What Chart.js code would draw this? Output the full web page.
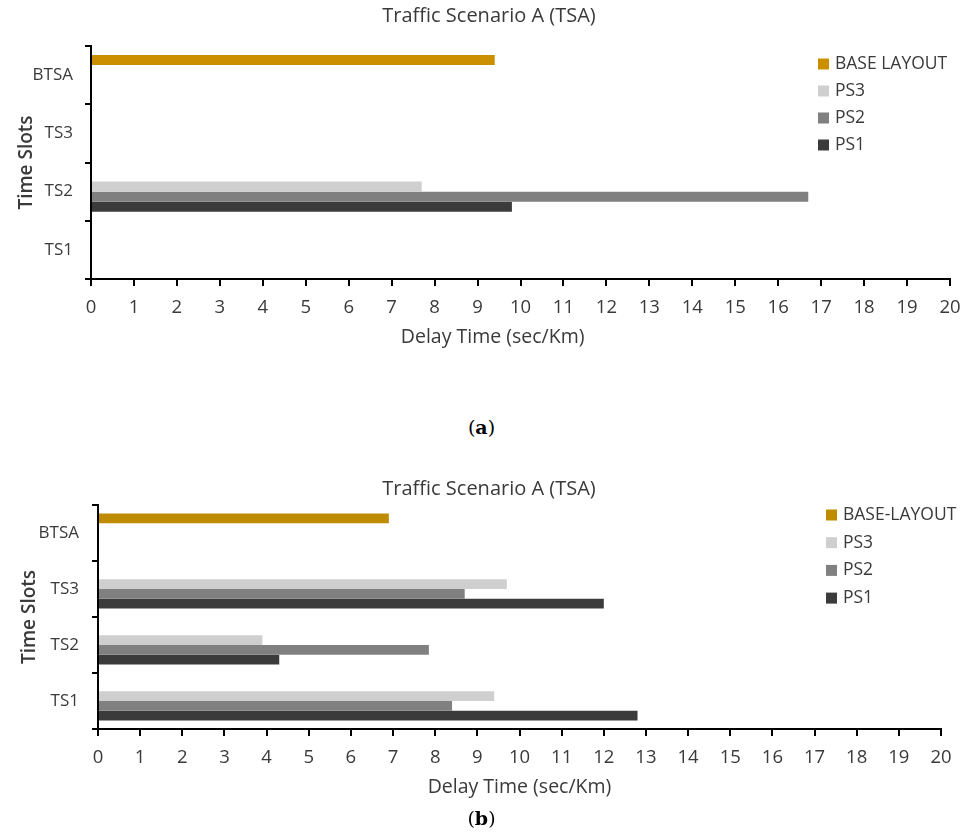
<!DOCTYPE html>
<html>
<head>
<meta charset="utf-8">
<script src="https://cdn.jsdelivr.net/npm/chart.js@4.4.1/dist/chart.umd.min.js"></script>
<style>
  html, body { margin: 0; padding: 0; background: #fff; }
  body { width: 967px; height: 836px; position: relative; overflow: hidden; }
  .box { position: absolute; left: 0; width: 967px; }
  #boxA { top: 0; height: 360px; }
  #boxB { top: 460px; height: 350px; }
  .chart-title {
    position: absolute; left: 0; width: 978px; text-align: center;
    font-family: "Open Sans", sans-serif; font-size: 20px; line-height: 24px;
    color: #3a3a3a; z-index: 2;
  }
  .caption {
    position: absolute; left: -2px; width: 967px; text-align: center;
    font-family: "DejaVu Serif", serif; font-size: 19px; color: #000;
  }
</style>
</head>
<body>
<div class="box" id="boxA"><canvas id="chartA"></canvas></div>
<div class="chart-title" style="top:3px">Traffic Scenario A (TSA)</div>
<div class="caption" style="top:416px">(<b>a</b>)</div>
<div class="box" id="boxB"><canvas id="chartB"></canvas></div>
<div class="chart-title" style="top:476px">Traffic Scenario A (TSA)</div>
<div class="caption" style="top:807px">(<b>b</b>)</div>

<script>
// categories, top to bottom
const categories = ["BTSA", "TS3", "TS2", "TS1"];

// chart (a)
const labelsA = ["BASE LAYOUT", "PS3", "PS2", "PS1"];
const baseA = [9.4, null, null, null];
const ps3A = [null, null, 7.7, null];
const ps2A = [null, null, 16.7, null];
const ps1A = [null, null, 9.8, null];

// chart (b)
const labelsB = ["BASE-LAYOUT", "PS3", "PS2", "PS1"];
const baseB = [6.9, null, null, null];
const ps3B = [null, 9.7, 3.9, 9.4];
const ps2B = [null, 8.7, 7.85, 8.4];
const ps1B = [null, 12.0, 4.3, 12.8];

// x axis
const xMin = 0;
const xMax = 20;
const xStep = 1;
const xTitle = "Delay Time (sec/Km)";

const textColor = "#3a3a3a";
const fontFamily = "'Open Sans', sans-serif";

// legend drawn inside the plot, on the right
const sideLegend = {
  id: "sideLegend",
  afterDraw(chart, args, opts) {
    const ctx = chart.ctx;
    ctx.save();
    ctx.font = "17.5px " + fontFamily;
    ctx.textBaseline = "middle";
    ctx.textAlign = "left";
    chart.data.datasets.forEach(function (ds, i) {
      const y = opts.y + i * opts.gap;
      ctx.fillStyle = ds.backgroundColor;
      ctx.fillRect(opts.x, y - 5.5, 11, 11);
      ctx.fillStyle = textColor;
      ctx.fillText(ds.label, opts.x + 17, y);
    });
    ctx.restore();
  },
};

function buildChart(canvasId, names, series, colors, cfg) {
  const datasets = series.map(function (values, i) {
    return {
      label: names[i],
      data: values,
      backgroundColor: colors[i],
      borderWidth: 0,
      categoryPercentage: cfg.catPct,
      barPercentage: 1.0,
    };
  });

  return new Chart(document.getElementById(canvasId), {
    type: "bar",
    data: { labels: categories, datasets: datasets },
    plugins: [sideLegend],
    options: {
      indexAxis: "y",
      responsive: true,
      maintainAspectRatio: false,
      animation: false,
      layout: {
        padding: { left: 0, right: cfg.padRight, top: cfg.padTop, bottom: 9 },
      },
      plugins: {
        legend: { display: false },
        tooltip: { enabled: false },
        title: { display: false },
        sideLegend: cfg.legend,
      },
      scales: {
        x: {
          type: "linear",
          min: xMin,
          max: xMax,
          ticks: {
            stepSize: xStep,
            color: textColor,
            padding: 11,
            font: { family: fontFamily, size: 18.5 },
          },
          grid: {
            display: true,
            drawOnChartArea: false,
            drawTicks: true,
            tickLength: 7,
            color: "#000",
            lineWidth: 2,
          },
          border: { display: true, color: "#000", width: 2 },
          title: {
            display: true,
            // trailing spaces push the centred title left, as in the source
            text: xTitle + "\u00a0".repeat(cfg.xTitleShift),
            color: textColor,
            font: { family: fontFamily, size: 19.5 },
            padding: { top: 0, bottom: 2 },
          },
          afterFit: function (scale) {
            scale.height = 72;
            // let layout.padding alone decide the right edge
            scale.paddingLeft = 0;
            scale.paddingRight = 0;
          },
        },
        y: {
          type: "category",
          ticks: {
            color: textColor,
            padding: cfg.yTickPad,
            font: { family: fontFamily, size: 17 },
          },
          grid: {
            display: true,
            offset: true,
            drawOnChartArea: false,
            drawTicks: true,
            tickLength: 6,
            color: "#000",
            lineWidth: 2,
          },
          border: { display: true, color: "#000", width: 2 },
          title: {
            display: true,
            text: "Time Slots",
            color: textColor,
            font: { family: fontFamily, size: 19, weight: "600" },
            padding: { top: cfg.yTitleTop, bottom: 0 },
          },
          afterFit: function (scale) {
            scale.width = cfg.yWidth;
          },
        },
      },
    },
  });
}

const grayColors = ["#CFCFCF", "#808080", "#3B3B3B"];

buildChart(
  "chartA",
  labelsA,
  [baseA, ps3A, ps2A, ps1A],
  ["#CC8F00"].concat(grayColors),
  {
    catPct: 0.69,
    padRight: 17,
    padTop: 46,
    yWidth: 91,
    yTickPad: 12,
    yTitleTop: 15,
    xTitleShift: 11,
    legend: { x: 818, y: 64, gap: 27 },
  }
);

buildChart(
  "chartB",
  labelsB,
  [baseB, ps3B, ps2B, ps1B],
  ["#BF8B00"].concat(grayColors),
  {
    catPct: 0.7,
    padRight: 26,
    padTop: 45,
    yWidth: 98,
    yTickPad: 13,
    yTitleTop: 18,
    xTitleShift: 0,
    legend: { x: 826, y: 55, gap: 27.7 },
  }
);
</script>
</body>
</html>
